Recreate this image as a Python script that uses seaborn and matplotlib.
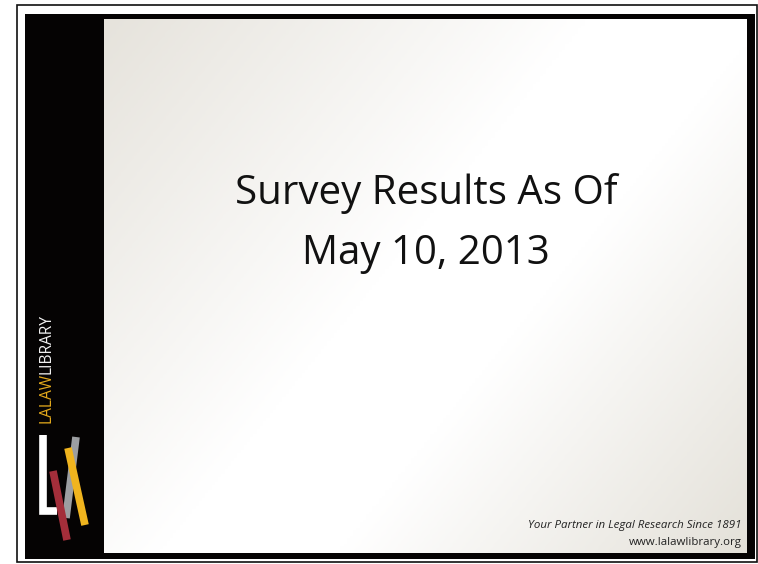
import numpy as np
import matplotlib
matplotlib.use("Agg")
import matplotlib.pyplot as plt
import seaborn as sns
from matplotlib.colors import LinearSegmentedColormap
from matplotlib.patches import Rectangle

sns.set_style("white")
plt.rcParams['font.family'] = ['Open Sans', 'DejaVu Sans']

# ---- content ----
title_lines = ["Survey Results As Of", "May 10, 2013"]
footer_lines = ["Your Partner in Legal Research Since 1891", "www.lalawlibrary.org"]
brand_parts = ["LALAW", "LIBRARY"]
brand_colors = ["#E3A91C", "#F2F2F2"]

# logo strokes (pixel space of the slide), colours
logo_names = ["white_L", "gray", "red", "yellow"]
logo_x = [[43, 43, 57], [76, 66], [53, 67], [68, 85]]
logo_y = [[435, 511, 511], [437, 518], [471, 540], [448, 525]]
logo_colors = ["#FFFFFF", "#9C9EA1", "#A32E3A", "#F0B41E"]

W, H = 758, 564
fig = plt.figure(figsize=(W / 100, H / 100), dpi=100)
ax = fig.add_axes([0, 0, 1, 1])
ax.set_xlim(0, W)
ax.set_ylim(H, 0)
ax.axis("off")
fig.patch.set_facecolor("white")
renderer = fig.canvas.get_renderer()


def fit_text(x, y, s, target_w, base=10, **kw):
    t = ax.text(x, y, s, fontsize=base, **kw)
    w = t.get_window_extent(renderer).width
    t.set_fontsize(base * target_w / w)
    return t


# outer thin frame
ax.add_patch(Rectangle((17, 5), 740, 557, fill=False, ec="#111111", lw=1.2, zorder=1))
# inner black frame
ax.add_patch(Rectangle((25, 14), 730, 545, fc="#050303", ec="none", zorder=2))

# content gradient
cx0, cy0, cx1, cy1 = 104, 19, 747, 553
yy, xx = np.mgrid[0:200, 0:200] / 199.0
t = (xx * 0.6 + yy * 0.4)
cmap = LinearSegmentedColormap.from_list(
    "bg", [(0, "#E6E3DC"), (0.45, "#FFFFFF"), (0.62, "#FFFFFF"), (1.0, "#E4E1D9")])
ax.imshow(t, cmap=cmap, extent=(cx0, cx1, cy1, cy0), aspect="auto", zorder=3,
          interpolation="bilinear")

# logo strokes
for xs, ys, c in zip(logo_x, logo_y, logo_colors):
    sns.lineplot(x=xs, y=ys, ax=ax, color=c, lw=5.5, sort=False, estimator=None,
                 solid_capstyle="butt", solid_joinstyle="miter", zorder=5)

# brand text (rotated), total length ~110 px from y=423 upward
b_size = 10
t1 = ax.text(46, 423, brand_parts[0], rotation=90, color=brand_colors[0], fontsize=b_size,
             ha="center", va="bottom", zorder=6)
t2 = ax.text(46, 0, brand_parts[1], rotation=90, color=brand_colors[1], fontsize=b_size,
             ha="center", va="bottom", zorder=6)
h1 = t1.get_window_extent(renderer).height
h2 = t2.get_window_extent(renderer).height
scale = 110.0 / (h1 + h2)
b_size *= scale
t1.set_fontsize(b_size)
t2.set_fontsize(b_size)
h1 = t1.get_window_extent(renderer).height
t2.set_y(423 - h1 + 1)

# title
fit_text(426, 204, title_lines[0], 382, ha="center", va="baseline", color="#111111",
         zorder=6)
t_tl = ax.texts[-1]
ax.text(426, 264, title_lines[1], ha="center", va="baseline",
        fontsize=t_tl.get_fontsize(), color="#111111", zorder=6)

# footer
fit_text(742, 528, footer_lines[0], 212, ha="right", va="baseline",
         style="italic", color="#222222", zorder=6)
fs = ax.texts[-1].get_fontsize()
ax.text(742, 545, footer_lines[1], ha="right", va="baseline", fontsize=fs,
        color="#222222", zorder=6)

fig.savefig("out.png", dpi=100)
